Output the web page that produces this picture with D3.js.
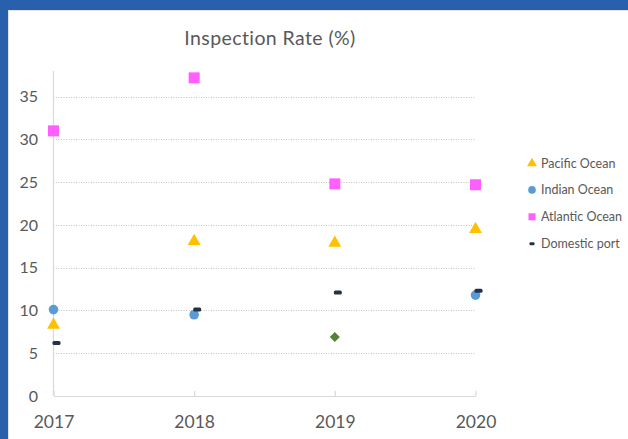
<!DOCTYPE html>
<html>
<head>
<meta charset="utf-8">
<script src="https://cdn.jsdelivr.net/npm/d3@7"></script>
<style>
  html, body { margin: 0; padding: 0; background: #fff; }
  svg { display: block; font-family: Lato, "Open Sans", sans-serif; }
</style>
</head>
<body>
<svg id="chart" width="628" height="439"></svg>
<script>
// chart data
const years = [2017, 2018, 2019, 2020];
const yTicks = [0, 5, 10, 15, 20, 25, 30, 35];
const pacific = [8.3, 18.1, 17.9, 19.5];
const indian = [10.1, 9.5, null, 11.8];
const atlantic = [31.0, 37.2, 24.8, 24.7];
const domestic = [6.2, 10.1, 12.1, 12.3];
const unlabelled = [null, null, 6.9, null];

const seriesNames = ["Pacific Ocean", "Indian Ocean", "Atlantic Ocean", "Domestic port"];

const svg = d3.select("#chart");
const W = 628, H = 439;

svg.append("rect").attr("width", W).attr("height", H).attr("fill", "#fff");

// window frame
svg.append("rect").attr("x", 0).attr("y", 0).attr("width", W).attr("height", 10).attr("fill", "#2860ab");
svg.append("rect").attr("x", 0).attr("y", 0).attr("width", 8).attr("height", H).attr("fill", "#2860ab");
svg.append("line").attr("x1", 8).attr("x2", W).attr("y1", 10.5).attr("y2", 10.5).attr("stroke", "#e3e3e3");
svg.append("line").attr("x1", 8.5).attr("x2", 8.5).attr("y1", 10).attr("y2", H).attr("stroke", "#e3e3e3");

const x = d3.scaleLinear().domain([2017, 2020]).range([53.5, 475.5]);
const y = d3.scaleLinear().domain([0, 38]).range([396, 71]);

const textColor = "#595959";

// title
svg.append("text")
    .attr("x", 270).attr("y", 45)
    .attr("text-anchor", "middle")
    .attr("font-size", 19.5)
    .attr("letter-spacing", 0.4)
    .attr("fill", textColor)
    .text("Inspection Rate (%)");

// gridlines
svg.append("g")
    .selectAll("line")
    .data(yTicks.filter(d => d > 0))
    .enter().append("line")
    .attr("x1", x(2017)).attr("x2", x(2020))
    .attr("y1", d => Math.round(y(d)) + 0.5)
    .attr("y2", d => Math.round(y(d)) + 0.5)
    .attr("stroke", "#c4c4c4")
    .attr("stroke-dasharray", "1,1.5");

// y axis
const yAxis = d3.axisLeft(y).tickValues(yTicks).tickSize(0).tickPadding(0);
const yG = svg.append("g").attr("transform", `translate(38,0)`).call(yAxis);
yG.select(".domain").remove();
yG.selectAll("text").attr("font-size", 16).attr("fill", textColor).attr("font-family", "Lato, sans-serif");
svg.append("line")
    .attr("x1", x(2017)).attr("x2", x(2017))
    .attr("y1", y(38)).attr("y2", y(0))
    .attr("stroke", "#d9d9d9").attr("stroke-width", 1.2);

// x axis (ticks point up, Excel style)
const xAxis = d3.axisBottom(x).tickValues(years).tickFormat(d3.format("d")).tickSizeInner(-5).tickSizeOuter(0).tickPadding(20);
const xG = svg.append("g").attr("transform", `translate(0,${y(0)})`).call(xAxis);
xG.select(".domain").attr("stroke", "#d9d9d9").attr("stroke-width", 1.2);
xG.selectAll(".tick line").attr("stroke", "#d9d9d9").attr("stroke-width", 1.2);
xG.selectAll("text").attr("font-size", 17.5).attr("fill", textColor).attr("font-family", "Lato, sans-serif");

// marker shapes
const triangle = d3.symbol().type(d3.symbolTriangle);
const square = d3.symbol().type(d3.symbolSquare);

function points(values) {
    return years.map((yr, i) => ({ year: yr, value: values[i] })).filter(d => d.value != null);
}

const marks = svg.append("g");

marks.selectAll("path.pacific")
    .data(points(pacific))
    .enter().append("path")
    .attr("class", "pacific")
    .attr("d", triangle.size(72))
    .attr("transform", d => `translate(${x(d.year)},${y(d.value)})`)
    .attr("fill", "#ffc000");

marks.selectAll("circle.indian")
    .data(points(indian))
    .enter().append("circle")
    .attr("class", "indian")
    .attr("cx", d => x(d.year))
    .attr("cy", d => y(d.value))
    .attr("r", 4.8)
    .attr("fill", "#5b9bd5");

marks.selectAll("rect.atlantic")
    .data(points(atlantic))
    .enter().append("rect")
    .attr("class", "atlantic")
    .attr("x", d => x(d.year) - 5.5)
    .attr("y", d => y(d.value) - 5.5)
    .attr("width", 11).attr("height", 11)
    .attr("fill", "#ff5fff");

marks.selectAll("rect.domestic")
    .data(points(domestic))
    .enter().append("rect")
    .attr("class", "domestic")
    .attr("x", d => x(d.year) - 1)
    .attr("y", d => y(d.value) - 2)
    .attr("width", 8).attr("height", 4)
    .attr("rx", 1.5)
    .attr("fill", "#223247");

// green diamond, not in the legend
marks.selectAll("path.other")
    .data(points(unlabelled))
    .enter().append("path")
    .attr("class", "other")
    .attr("d", square.size(50))
    .attr("transform", d => `translate(${x(d.year)},${y(d.value)}) rotate(45)`)
    .attr("fill", "#548235");

// legend
const legend = svg.append("g").attr("transform", "translate(532,163)");
const rowGap = 26.9;
const item = legend.selectAll("g")
    .data(seriesNames)
    .enter().append("g")
    .attr("transform", (d, i) => `translate(0,${i * rowGap})`);

item.append("text")
    .attr("x", 9).attr("y", 4.5)
    .attr("font-size", 12.5)
    .attr("fill", textColor)
    .text(d => d);

item.filter((d, i) => i === 0).append("path")
    .attr("d", triangle.size(42)).attr("fill", "#ffc000").attr("transform", "translate(0,0.5)");
item.filter((d, i) => i === 1).append("circle")
    .attr("r", 3.8).attr("fill", "#5b9bd5");
item.filter((d, i) => i === 2).append("rect")
    .attr("x", -3.5).attr("y", -3.5).attr("width", 7).attr("height", 7).attr("fill", "#ff5fff");
item.filter((d, i) => i === 3).append("rect")
    .attr("x", -2.5).attr("y", -1.5).attr("width", 5).attr("height", 3).attr("rx", 1).attr("fill", "#223247");
</script>
</body>
</html>
